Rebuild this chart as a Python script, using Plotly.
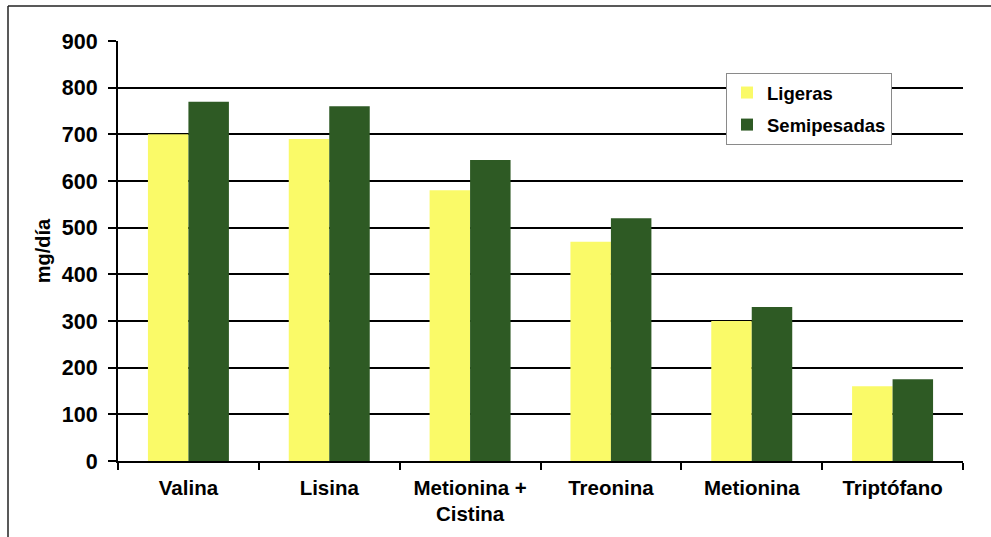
import plotly.graph_objects as go

# Requerimientos diarios de aminoácidos (mg/día)
categorias = ["Valina", "Lisina", "Metionina +<br>Cistina", "Treonina", "Metionina", "Triptófano"]
ligeras = [700, 690, 580, 470, 300, 160]
semipesadas = [770, 760, 645, 520, 330, 175]
y_ticks = [0, 100, 200, 300, 400, 500, 600, 700, 800, 900]

FONT = "Liberation Sans, Arial, sans-serif"
AMARILLO = "#FAFA68"
VERDE = "#2E5A24"

fig = go.Figure()
fig.add_trace(go.Bar(name="Ligeras", x=categorias, y=ligeras, legendgroup="a",
                     marker=dict(color=AMARILLO, line=dict(width=0))))
fig.add_trace(go.Bar(name="Semipesadas", x=categorias, y=semipesadas, legendgroup="b",
                     marker=dict(color=VERDE, line=dict(width=0))))

# Plot area geometry in pixels
W, H = 991, 537
L, R, T, B = 118, 963, 41, 461
pw, ph = R - L, B - T

def px(x):
    return (x - L) / pw

def py(y):
    return (B - y) / ph

fig.update_layout(
    width=W, height=H,
    margin=dict(l=L, r=W - R, t=T, b=H - B, pad=0),
    paper_bgcolor="white", plot_bgcolor="white",
    barmode="group", bargap=0.425, bargroupgap=0,
    font=dict(family=FONT, color="black"),
    showlegend=True,
    legend=dict(
        x=px(726), y=py(73), xanchor="left", yanchor="top",
        bgcolor="white", bordercolor="#8a8a8a", borderwidth=1,
        font=dict(family=FONT, size=18.5, color="black", weight="bold"),
        itemsizing="constant", itemwidth=30, tracegroupgap=5,
    ),
    xaxis=dict(
        showline=True, linecolor="black", linewidth=2,
        ticks="outside", tickson="boundaries", ticklen=7, tickwidth=2, tickcolor="black",
        ticklabelstandoff=7,
        tickfont=dict(family=FONT, size=20.5, color="black", weight="bold"),
        showgrid=False,
    ),
    yaxis=dict(
        range=[0, 900], tickvals=y_ticks,
        showline=True, linecolor="black", linewidth=2,
        ticks="outside", ticklen=8, tickwidth=2, tickcolor="black",
        ticklabelstandoff=6,
        tickfont=dict(family=FONT, size=21.5, color="black", weight="bold"),
        showgrid=True, gridcolor="black", gridwidth=2,
        zeroline=False,
        title=dict(text="mg/día", font=dict(family=FONT, size=20, color="black", weight="bold"), standoff=6),
    ),
    shapes=[
        dict(type="line", xref="paper", yref="paper", x0=px(8), x1=px(W), y0=py(6), y1=py(6),
             line=dict(color="#222222", width=1.5)),
        dict(type="line", xref="paper", yref="paper", x0=px(8), x1=px(8), y0=py(6), y1=py(H),
             line=dict(color="#222222", width=1.5)),
    ],
)

fig.write_html("out.html")
